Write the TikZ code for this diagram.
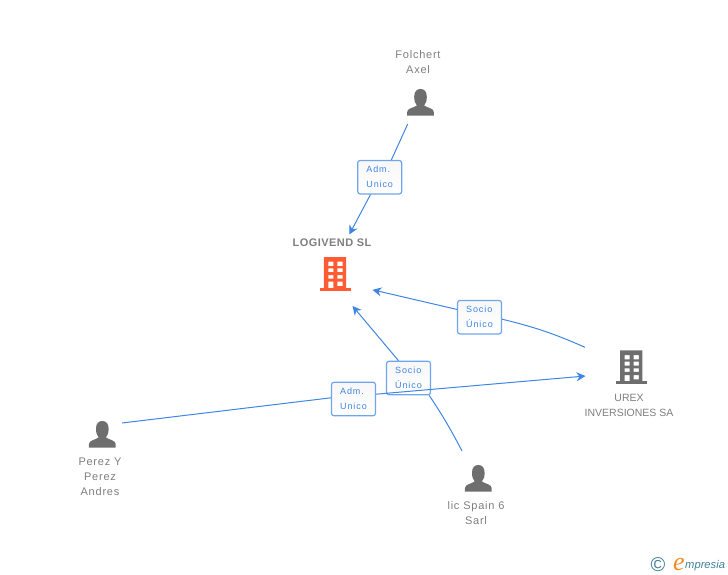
\documentclass[tikz,border=0pt]{standalone}
\usepackage{fontspec}
\setmainfont{Liberation Sans}
\newfontfamily\namefont[LetterSpace=7]{Liberation Sans}
\newfontfamily\boldnamefont[LetterSpace=4]{Liberation Sans Bold}
\newfontfamily\linkfont[LetterSpace=10]{Liberation Sans}
\newfontfamily\logofont{Liberation Sans Italic}
\newfontfamily\logoefont{Liberation Serif Italic}
\usetikzlibrary{arrows.meta}
\definecolor{linkblue}{HTML}{3F85E3}
\definecolor{boxblue}{HTML}{6FA5EC}
\definecolor{icongray}{HTML}{6E6E6E}
\definecolor{namegray}{HTML}{7E7E7E}
\definecolor{logiorange}{HTML}{FF5C33}
\definecolor{logoteal}{HTML}{3F7F98}
\definecolor{logoorange}{HTML}{F58A1F}
\tikzset{
  namelabel/.style={text=namegray,align=center,inner sep=0pt,font=\fontsize{11}{15}\selectfont\namefont},
  linkbox/.style={draw=boxblue,line width=1.2pt,rounded corners=2.5pt,top color=black!3,bottom color=white,
    minimum width=44pt,minimum height=33.5pt,inner sep=0pt,align=left,text=linkblue,
    font=\fontsize{9}{15}\selectfont\linkfont,execute at begin node=\rule{0pt}{12pt}},
  link/.style={draw=linkblue,line width=1pt},
  linktip/.style={link,-{Stealth[length=9pt,width=9pt]}},
  personicon/.pic={
    \fill[icongray] (-13.4,0)--(-13.4,-3.5) .. controls (-13.4,-7.5) and (-7,-7.8) .. (-3.6,-10.2)
      .. controls (-5.6,-12.5) and (-6.3,-15) .. (-6.3,-19) .. controls (-6.3,-24.5) and (-3.5,-26.7) .. (0,-26.7)
      .. controls (3.5,-26.7) and (6.3,-24.5) .. (6.3,-19) .. controls (6.3,-15) and (5.6,-12.5) .. (3.6,-10.2)
      .. controls (7,-7.8) and (13.4,-7.5) .. (13.4,-3.5)--(13.4,0)--cycle;
  },
  buildingicon/.pic={
    \path[pic actions,even odd rule] (-11.2,-34) rectangle (11.2,-3)
      (-6.7,-29.3) rectangle (-1.7,-25) (2.3,-29.3) rectangle (7.7,-25)
      (-6.7,-22.7) rectangle (-1.7,-18.8) (2.3,-22.7) rectangle (7.7,-18.8)
      (-6.7,-16) rectangle (-1.7,-12.4) (2.3,-16) rectangle (7.7,-12.4)
      (-6.7,-9.3) rectangle (-1.7,-3) (2.3,-9.3) rectangle (7.7,-5);
    \path[pic actions] (-15.5,-3) rectangle (15.5,0);
  }
}
\begin{document}
\begin{tikzpicture}[x=1pt,y=-1pt]
 \useasboundingbox (0,0) rectangle (728,575);
 \pic at (420.5,115.7) {personicon};
 \pic at (102.3,447.7) {personicon};
 \pic at (478.3,491.7) {personicon};
 \pic[fill=logiorange] at (335,291) {buildingicon};
 \pic[fill=icongray] at (631.2,384.3) {buildingicon};
 \node[namelabel] (folchert) at (418,62.5) {Folchert\\Axel};
 \node[namelabel,font=\fontsize{11}{15}\selectfont\boldnamefont] (logivend) at (332,242.5) {LOGIVEND SL};
 \node[namelabel,font=\fontsize{10.5}{15}\selectfont] (urex) at (629,405) {UREX\\INVERSIONES SA};
 \node[namelabel] (perez) at (100,476.5) {Perez Y\\Perez\\Andres};
 \node[namelabel] (licspain) at (476,513) {lic Spain 6\\Sarl};
 \node[linkbox] (admFolchert) at (379.7,177.2) {Adm.\\Unico};
 \node[linkbox] (socioUrex) at (479.5,317.2) {Socio\\Único};
 \node[linkbox] (socioLic) at (408.5,378) {Socio\\Único};
 \node[linkbox] (admPerez) at (353.5,399) {Adm.\\Unico};
 \coordinate (folchertEnd) at (407.7,124);
 \coordinate (logivendTop) at (349.3,234.5);
 \coordinate (logivendRight) at (372.5,289.8);
 \coordinate (logivendLow) at (352.5,306);
 \coordinate (urexEnd) at (585,347.3);
 \coordinate (urexTip) at (585.5,376);
 \coordinate (perezEnd) at (122,423);
 \coordinate (licEnd) at (462,451);
 \draw[link] (folchertEnd) -- (admFolchert.56);
 \draw[linktip] (admFolchert) -- (logivendTop);
 \draw[link] (urexEnd) to[bend right=5] (socioUrex.-5);
 \draw[linktip] (socioUrex.161) -- (logivendRight);
 \draw[link] (licEnd) to[bend right=3] (socioLic.-40);
 \draw[linktip] (socioLic.120) -- (logivendLow);
 \draw[link] (perezEnd) -- (admPerez.177);
 \draw[linktip] (admPerez.12) -- (urexTip);
 \node[inner sep=0pt,text=logoteal,font=\fontsize{20}{20}\selectfont] (logoc) at (658,564.5) {©};
 \node[inner sep=0pt,text=logoorange,font=\fontsize{26}{26}\selectfont\logoefont,anchor=base] (logoe) at (679,570) {e};
 \node[inner sep=0pt,text=logoteal,font=\fontsize{11.2}{11.2}\selectfont\logofont,anchor=base west] (logotext) at (685,568) {mpresia};
\end{tikzpicture}
\end{document}
